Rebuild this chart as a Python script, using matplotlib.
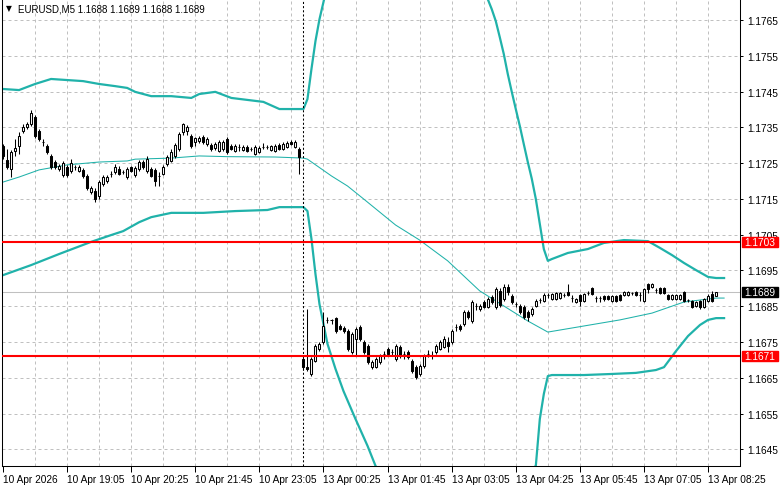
import matplotlib
matplotlib.use("Agg")
import matplotlib.pyplot as plt
import matplotlib.transforms as mtransforms
from matplotlib.patches import Rectangle
import numpy as np

plt.rcParams['font.family'] = ['Liberation Sans', 'DejaVu Sans']

# ---- data ----
header = "EURUSD,M5 1.1688 1.1689 1.1688 1.1689"

opens = [
    1.17298, 1.17259, 1.17233, 1.17284, 1.17298, 1.17340, 1.17351, 1.17359, 1.17379, 1.17340,
    1.17309, 1.17298, 1.17270, 1.17253, 1.17233, 1.17217, 1.17239, 1.17228, 1.17239, 1.17228,
    1.17231, 1.17214, 1.17169, 1.17172, 1.17158, 1.17192, 1.17200, 1.17219, 1.17225, 1.17233,
    1.17225, 1.17211, 1.17239, 1.17217, 1.17233, 1.17253, 1.17228, 1.17233, 1.17231, 1.17214,
    1.17219, 1.17247, 1.17256, 1.17270, 1.17289, 1.17337, 1.17340, 1.17326, 1.17309, 1.17312,
    1.17323, 1.17303, 1.17301, 1.17292, 1.17284, 1.17289, 1.17317, 1.17298, 1.17284, 1.17295,
    1.17287, 1.17295, 1.17289, 1.17275, 1.17281, 1.17295, 1.17295, 1.17287, 1.17284, 1.17301,
    1.17289, 1.17295, 1.17309, 1.17295, 1.17289,
    1.16703, 1.16680, 1.16661, 1.16697, 1.16731, 1.16750, 1.16812, 1.16812, 1.16817, 1.16795,
    1.16789, 1.16781, 1.16722, 1.16759, 1.16792, 1.16750, 1.16739, 1.16680, 1.16680, 1.16694,
    1.16717, 1.16731, 1.16722, 1.16703, 1.16736, 1.16717, 1.16722, 1.16697, 1.16680, 1.16661,
    1.16683, 1.16717, 1.16714, 1.16722, 1.16731, 1.16736, 1.16750, 1.16750, 1.16792, 1.16795,
    1.16801, 1.16834, 1.16809, 1.16851, 1.16842, 1.16862, 1.16848, 1.16876, 1.16848, 1.16893,
    1.16870, 1.16904, 1.16879, 1.16856, 1.16851, 1.16848, 1.16834, 1.16828, 1.16851, 1.16868,
    1.16865, 1.16882, 1.16870, 1.16870, 1.16873, 1.16882, 1.16890, 1.16873, 1.16862, 1.16882,
    1.16865, 1.16887, 1.16901, 1.16873, 1.16873, 1.16879, 1.16879, 1.16865, 1.16879, 1.16882,
    1.16882, 1.16882, 1.16887, 1.16890, 1.16882, 1.16865, 1.16912, 1.16904, 1.16896, 1.16901,
    1.16901, 1.16882, 1.16870, 1.16870, 1.16870, 1.16890, 1.16868, 1.16865, 1.16851, 1.16865,
    1.16848, 1.16865, 1.16884, 1.16880,
]
highs = [
    1.17303, 1.17289, 1.17287, 1.17317, 1.17337, 1.17359, 1.17365, 1.17398, 1.17384, 1.17345,
    1.17317, 1.17303, 1.17275, 1.17259, 1.17247, 1.17256, 1.17245, 1.17261, 1.17245, 1.17245,
    1.17236, 1.17219, 1.17186, 1.17180, 1.17203, 1.17217, 1.17217, 1.17228, 1.17247, 1.17242,
    1.17231, 1.17239, 1.17242, 1.17242, 1.17259, 1.17259, 1.17270, 1.17239, 1.17236, 1.17225,
    1.17245, 1.17273, 1.17289, 1.17306, 1.17337, 1.17362, 1.17356, 1.17331, 1.17323, 1.17326,
    1.17328, 1.17323, 1.17306, 1.17309, 1.17314, 1.17314, 1.17323, 1.17303, 1.17303, 1.17303,
    1.17301, 1.17301, 1.17295, 1.17301, 1.17298, 1.17306, 1.17301, 1.17301, 1.17303, 1.17306,
    1.17309, 1.17312, 1.17314, 1.17314, 1.17295,
    1.16708, 1.16842, 1.16708, 1.16745, 1.16750, 1.16834, 1.16820, 1.16815, 1.16820, 1.16801,
    1.16795, 1.16787, 1.16778, 1.16792, 1.16798, 1.16756, 1.16745, 1.16700, 1.16708, 1.16717,
    1.16725, 1.16736, 1.16731, 1.16745, 1.16742, 1.16725, 1.16728, 1.16703, 1.16686, 1.16689,
    1.16717, 1.16728, 1.16725, 1.16745, 1.16756, 1.16767, 1.16764, 1.16787, 1.16801, 1.16801,
    1.16840, 1.16840, 1.16868, 1.16859, 1.16856, 1.16868, 1.16876, 1.16882, 1.16904, 1.16901,
    1.16912, 1.16912, 1.16884, 1.16862, 1.16856, 1.16854, 1.16840, 1.16848, 1.16870, 1.16873,
    1.16887, 1.16887, 1.16887, 1.16890, 1.16890, 1.16887, 1.16912, 1.16882, 1.16873, 1.16884,
    1.16887, 1.16893, 1.16904, 1.16879, 1.16879, 1.16882, 1.16882, 1.16882, 1.16882, 1.16884,
    1.16893, 1.16893, 1.16890, 1.16893, 1.16890, 1.16901, 1.16915, 1.16915, 1.16901, 1.16904,
    1.16904, 1.16884, 1.16884, 1.16884, 1.16884, 1.16893, 1.16870, 1.16868, 1.16865, 1.16868,
    1.16873, 1.16884, 1.16893, 1.16890,
]
lows = [
    1.17261, 1.17233, 1.17211, 1.17270, 1.17275, 1.17334, 1.17345, 1.17354, 1.17320, 1.17312,
    1.17298, 1.17275, 1.17233, 1.17233, 1.17228, 1.17211, 1.17211, 1.17222, 1.17231, 1.17225,
    1.17208, 1.17175, 1.17164, 1.17141, 1.17150, 1.17186, 1.17194, 1.17211, 1.17219, 1.17217,
    1.17219, 1.17206, 1.17225, 1.17211, 1.17228, 1.17233, 1.17222, 1.17211, 1.17186, 1.17186,
    1.17217, 1.17242, 1.17253, 1.17264, 1.17284, 1.17328, 1.17328, 1.17292, 1.17298, 1.17306,
    1.17303, 1.17298, 1.17284, 1.17287, 1.17281, 1.17284, 1.17275, 1.17287, 1.17281, 1.17284,
    1.17284, 1.17281, 1.17284, 1.17273, 1.17278, 1.17289, 1.17289, 1.17284, 1.17281, 1.17287,
    1.17287, 1.17292, 1.17301, 1.17292, 1.17219,
    1.16672, 1.16669, 1.16655, 1.16694, 1.16725, 1.16745, 1.16803, 1.16801, 1.16775, 1.16784,
    1.16775, 1.16725, 1.16717, 1.16711, 1.16753, 1.16717, 1.16689, 1.16675, 1.16678, 1.16689,
    1.16703, 1.16711, 1.16714, 1.16697, 1.16706, 1.16703, 1.16703, 1.16664, 1.16647, 1.16655,
    1.16678, 1.16708, 1.16703, 1.16717, 1.16728, 1.16734, 1.16722, 1.16745, 1.16781, 1.16781,
    1.16795, 1.16815, 1.16803, 1.16840, 1.16837, 1.16845, 1.16845, 1.16856, 1.16842, 1.16848,
    1.16865, 1.16882, 1.16856, 1.16848, 1.16828, 1.16815, 1.16809, 1.16823, 1.16848, 1.16859,
    1.16862, 1.16873, 1.16868, 1.16868, 1.16870, 1.16876, 1.16879, 1.16862, 1.16859, 1.16851,
    1.16862, 1.16882, 1.16882, 1.16862, 1.16862, 1.16865, 1.16868, 1.16862, 1.16862, 1.16865,
    1.16879, 1.16879, 1.16882, 1.16879, 1.16865, 1.16862, 1.16887, 1.16901, 1.16887, 1.16884,
    1.16884, 1.16868, 1.16868, 1.16868, 1.16868, 1.16862, 1.16862, 1.16845, 1.16848, 1.16842,
    1.16845, 1.16862, 1.16862, 1.16880,
]
closes = [
    1.17270, 1.17239, 1.17281, 1.17292, 1.17326, 1.17351, 1.17359, 1.17390, 1.17326, 1.17317,
    1.17309, 1.17281, 1.17239, 1.17239, 1.17242, 1.17250, 1.17217, 1.17250, 1.17239, 1.17239,
    1.17214, 1.17180, 1.17180, 1.17150, 1.17197, 1.17211, 1.17211, 1.17219, 1.17239, 1.17219,
    1.17225, 1.17233, 1.17228, 1.17236, 1.17253, 1.17239, 1.17261, 1.17214, 1.17200, 1.17214,
    1.17239, 1.17267, 1.17281, 1.17301, 1.17331, 1.17359, 1.17351, 1.17298, 1.17320, 1.17320,
    1.17309, 1.17317, 1.17289, 1.17303, 1.17309, 1.17309, 1.17281, 1.17289, 1.17298, 1.17294,
    1.17295, 1.17284, 1.17289, 1.17295, 1.17292, 1.17295, 1.17294, 1.17298, 1.17298, 1.17289,
    1.17303, 1.17306, 1.17303, 1.17309, 1.17267,
    1.16680, 1.16675, 1.16703, 1.16739, 1.16745, 1.16795, 1.16812, 1.16812, 1.16781, 1.16787,
    1.16781, 1.16731, 1.16773, 1.16787, 1.16759, 1.16722, 1.16694, 1.16694, 1.16703, 1.16711,
    1.16717, 1.16717, 1.16722, 1.16739, 1.16711, 1.16717, 1.16708, 1.16669, 1.16653, 1.16683,
    1.16711, 1.16717, 1.16714, 1.16739, 1.16750, 1.16759, 1.16739, 1.16781, 1.16792, 1.16787,
    1.16834, 1.16820, 1.16862, 1.16851, 1.16851, 1.16848, 1.16870, 1.16862, 1.16898, 1.16854,
    1.16904, 1.16890, 1.16862, 1.16856, 1.16834, 1.16820, 1.16820, 1.16842, 1.16865, 1.16868,
    1.16882, 1.16882, 1.16884, 1.16887, 1.16887, 1.16882, 1.16882, 1.16873, 1.16870, 1.16865,
    1.16884, 1.16887, 1.16884, 1.16873, 1.16873, 1.16870, 1.16870, 1.16879, 1.16865, 1.16868,
    1.16890, 1.16890, 1.16887, 1.16882, 1.16882, 1.16898, 1.16898, 1.16912, 1.16896, 1.16887,
    1.16887, 1.16870, 1.16882, 1.16882, 1.16882, 1.16865, 1.16868, 1.16848, 1.16862, 1.16848,
    1.16870, 1.16879, 1.16865, 1.16890,
]

# Bollinger bands, sampled at bar numbers
mid_bar = [0, 4, 9, 13, 16, 21, 24, 31, 33, 42, 49, 56, 68, 75, 76, 82, 86, 90, 98, 104,
           111, 119, 127, 131, 136, 145, 154, 162, 170, 178, 180]
mid_price = [1.17197, 1.17211, 1.17231, 1.17239, 1.17245, 1.17250, 1.17253, 1.17256, 1.17261, 1.17264,
             1.17270, 1.17268, 1.17267, 1.17264, 1.17261, 1.17214, 1.17186, 1.17150, 1.17077, 1.17035,
             1.16977, 1.16893, 1.16837, 1.16809, 1.16778, 1.16795, 1.16812, 1.16831, 1.16862, 1.16873, 1.16873]

upper_bar = [0, 4, 8, 12, 16, 20, 24, 28, 31, 33, 37, 42, 47, 49, 53, 57, 65, 69, 75, 76,
             77, 78, 79, 80, 82, 86, 92, 100, 108, 114, 118, 121, 122, 123, 124, 125, 126, 127, 128, 129,
             130, 131, 132, 133, 134, 135, 136, 137, 141, 146, 150, 155, 161, 164, 167, 170, 173, 176, 178, 180]
upper_price = [1.17457, 1.17454, 1.17471, 1.17485, 1.17482, 1.17479, 1.17471, 1.17465, 1.17460, 1.17449,
               1.17437, 1.17437, 1.17432, 1.17443, 1.17449, 1.17432, 1.17421, 1.17401, 1.17401, 1.17429,
               1.17513, 1.17591, 1.17652, 1.17700, 1.17800, 1.17900, 1.17970, 1.18000, 1.17980, 1.17900,
               1.17800, 1.17708, 1.17680, 1.17647, 1.17602, 1.17555, 1.17499, 1.17449, 1.17401, 1.17354,
               1.17303, 1.17253, 1.17206, 1.17150, 1.17080, 1.17010, 1.16977, 1.16982, 1.16999, 1.17010,
               1.17027, 1.17035, 1.17032, 1.17013, 1.16993, 1.16971, 1.16951, 1.16932, 1.16929, 1.16929]

lower_bar = [0, 7, 14, 22, 27, 30, 34, 37, 42, 50, 58, 66, 69, 75, 76, 77, 78, 79, 81, 83,
             85, 88, 91, 93, 97, 105, 115, 125, 130, 133, 134, 135, 136, 137, 145, 152, 158, 163, 165, 168,
             171, 174, 176, 178, 180]
lower_price = [1.16937, 1.16965, 1.16996, 1.17030, 1.17049, 1.17060, 1.17085, 1.17099, 1.17111, 1.17111,
               1.17116, 1.17119, 1.17127, 1.17127, 1.17116, 1.17038, 1.16940, 1.16856, 1.16745, 1.16675,
               1.16613, 1.16535, 1.16460, 1.16404, 1.16340, 1.16300, 1.16300, 1.16340, 1.16380, 1.16404,
               1.16535, 1.16605, 1.16655, 1.16658, 1.16658, 1.16661, 1.16664, 1.16672, 1.16680, 1.16725,
               1.16767, 1.16798, 1.16812, 1.16817, 1.16817]

time_labels = ["10 Apr 2026", "10 Apr 19:05", "10 Apr 20:25", "10 Apr 21:45", "10 Apr 23:05",
               "13 Apr 00:25", "13 Apr 01:45", "13 Apr 03:05", "13 Apr 04:25", "13 Apr 05:45",
               "13 Apr 07:05", "13 Apr 08:25"]
label_bars = [0, 16, 32, 48, 64, 80, 96, 112, 128, 144, 160, 176]
price_ticks = [1.1645, 1.1655, 1.1665, 1.1675, 1.1685, 1.1695, 1.1705,
               1.1715, 1.1725, 1.1735, 1.1745, 1.1755, 1.1765]

resistance = 1.1703
support = 1.1671
bid = 1.1689
new_session_bar = 75

# ---- drawing ----
W, H = 781, 489
fig = plt.figure(figsize=(W / 100, H / 100), dpi=100)
ax = fig.add_axes([2 / W, 22 / H, 738 / W, 466 / H])
ax.set_xlim(-0.25, 183.97)
ax.set_ylim(1.164039, 1.177056)

grid_kw = dict(color='#c0c0c0', lw=0.72, ls=(0, (3, 3)), zorder=0.5)
for v in price_ticks:
    ax.axhline(v, **grid_kw)
for b in range(8, 185, 8):
    ax.axvline(b, **grid_kw)

ax.axhline(bid, color='#c0c0c0', lw=0.75, zorder=1)

teal = '#20b2aa'
ax.plot(mid_bar, mid_price, color=teal, lw=0.75, zorder=2)
ax.plot(upper_bar, upper_price, color=teal, lw=1.6, zorder=2)
ax.plot(lower_bar, lower_price, color=teal, lw=1.6, zorder=2)

o = np.array(opens)
c = np.array(closes)
x = np.arange(len(c))
ax.vlines(x, lows, highs, color='black', lw=0.75, zorder=3)
bull = c >= o
ax.bar(x, np.abs(c - o), bottom=np.minimum(o, c), width=0.5,
       color=np.where(bull, 'white', 'black'), edgecolor='black', lw=0.75, zorder=4)

ax.axvline(new_session_bar, color='black', lw=0.75, ls=(0, (2, 2)), zorder=5)
ax.axhline(resistance, color='red', lw=1.5, zorder=6)
ax.axhline(support, color='red', lw=1.5, zorder=6)

for s in ['left', 'right', 'bottom']:
    ax.spines[s].set_color('black')
    ax.spines[s].set_linewidth(0.75)
ax.spines['top'].set_visible(False)

ax.yaxis.tick_right()
ax.set_yticks(price_ticks)
ax.set_yticklabels([f"{v:.4f}" for v in price_ticks])
ax.tick_params(axis='y', direction='out', length=2.5, width=0.72, pad=2.5, labelsize=7.3)
ax.set_xticks(label_bars)
ax.set_xticklabels(time_labels, ha='left')
ax.tick_params(axis='x', direction='out', length=4, width=0.72, pad=2, labelsize=7.3)

# price boxes on the right scale
trans = mtransforms.blended_transform_factory(ax.transAxes, ax.transData)
box_h = 10 / 35800
for val, fc in [(resistance, 'red'), (bid, 'black'), (support, 'red')]:
    ax.add_patch(Rectangle((740 / 738, val - box_h / 2), 36 / 738, box_h, transform=trans,
                           facecolor=fc, edgecolor=fc, clip_on=False, zorder=10))
    ax.text(758 / 738, val, f"{val:.4f}", transform=trans, color='white', fontsize=7.3,
            ha='center', va='center', clip_on=False, zorder=11)

fig.text(6 / W, 1 - 9 / H, "\u25bc", fontsize=5.5, family='DejaVu Sans', va='center', ha='left')
fig.text(18 / W, 1 - 9 / H, header, fontsize=7.0, va='center', ha='left')

fig.savefig("out.png", dpi=100, facecolor='white')
